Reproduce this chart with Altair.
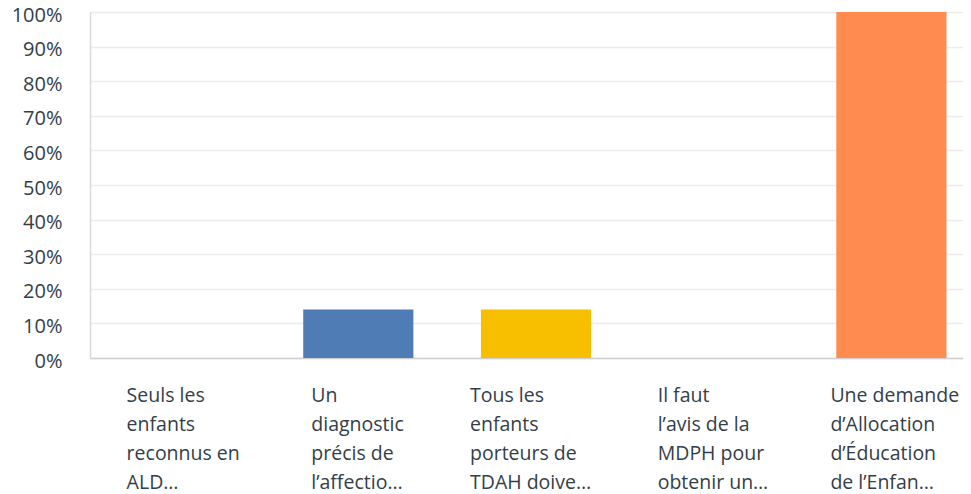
import altair as alt
import pandas as pd

categories = [
    "Seuls les|enfants|reconnus en|ALD…",
    "Un|diagnostic|précis de|l’affectio…",
    "Tous les|enfants|porteurs de|TDAH doive…",
    "Il faut|l’avis de la|MDPH pour|obtenir un…",
    "Une demande|d’Allocation|d’Éducation|de l’Enfan…",
]
values = [0, 14, 14, 0, 100]
colors = ["#507cb6", "#507cb6", "#f8be00", "#6bc8cd", "#ff8b50"]
label_shift = [-54, -47, -66, -56, -61]

df = pd.DataFrame({"cat": categories, "val": values, "col": colors})

offset_expr = "{" + ",".join(
    '"%s": %d' % (c, s) for c, s in zip(categories, label_shift)
) + "}[datum.value]"

FONT = "Open Sans"
TXT = "#333e48"

bars = alt.Chart(df).mark_bar().encode(
    x=alt.X(
        "cat:N",
        sort=None,
        title=None,
        scale=alt.Scale(range=[0, 892], paddingInner=0.38, paddingOuter=0.2),
        axis=alt.Axis(
            labelExpr="split(datum.label, '|')",
            labelAlign="left",
            labelBaseline="top",
            labelAngle=0,
            labelPadding=28,
            labelLineHeight=29,
            labelFontSize=19.5,
            labelFont=FONT,
            labelColor=TXT,
            labelOffset=alt.ExprRef(expr=offset_expr),
            labelLimit=300,
            ticks=False,
            domainColor="#cfcfcf",
            domainWidth=1.5,
            grid=False,
        ),
    ),
    y=alt.Y(
        "val:Q",
        title=None,
        scale=alt.Scale(domain=[0, 100], nice=False),
        axis=alt.Axis(
            values=list(range(0, 101, 10)),
            labelExpr="datum.value + '%'",
            labelFontSize=20,
            labelFont=FONT,
            labelColor=TXT,
            labelPadding=28,
            labelOffset=3,
            labelFlush=False,
            ticks=False,
            domainColor="#d9d9d9",
            domainWidth=1.5,
            gridColor="#ececec",
            gridWidth=1.5,
        ),
    ),
    color=alt.Color("col:N", scale=None),
).properties(
    width=873,
    height=346,
    padding={"left": 82, "top": 4, "right": 0, "bottom": 140},
    autosize=alt.AutoSizeParams(type="none"),
).configure_view(stroke=None).configure(background="white")

chart = bars
chart.save("out.html", embed_options={"renderer": "svg", "actions": False})
